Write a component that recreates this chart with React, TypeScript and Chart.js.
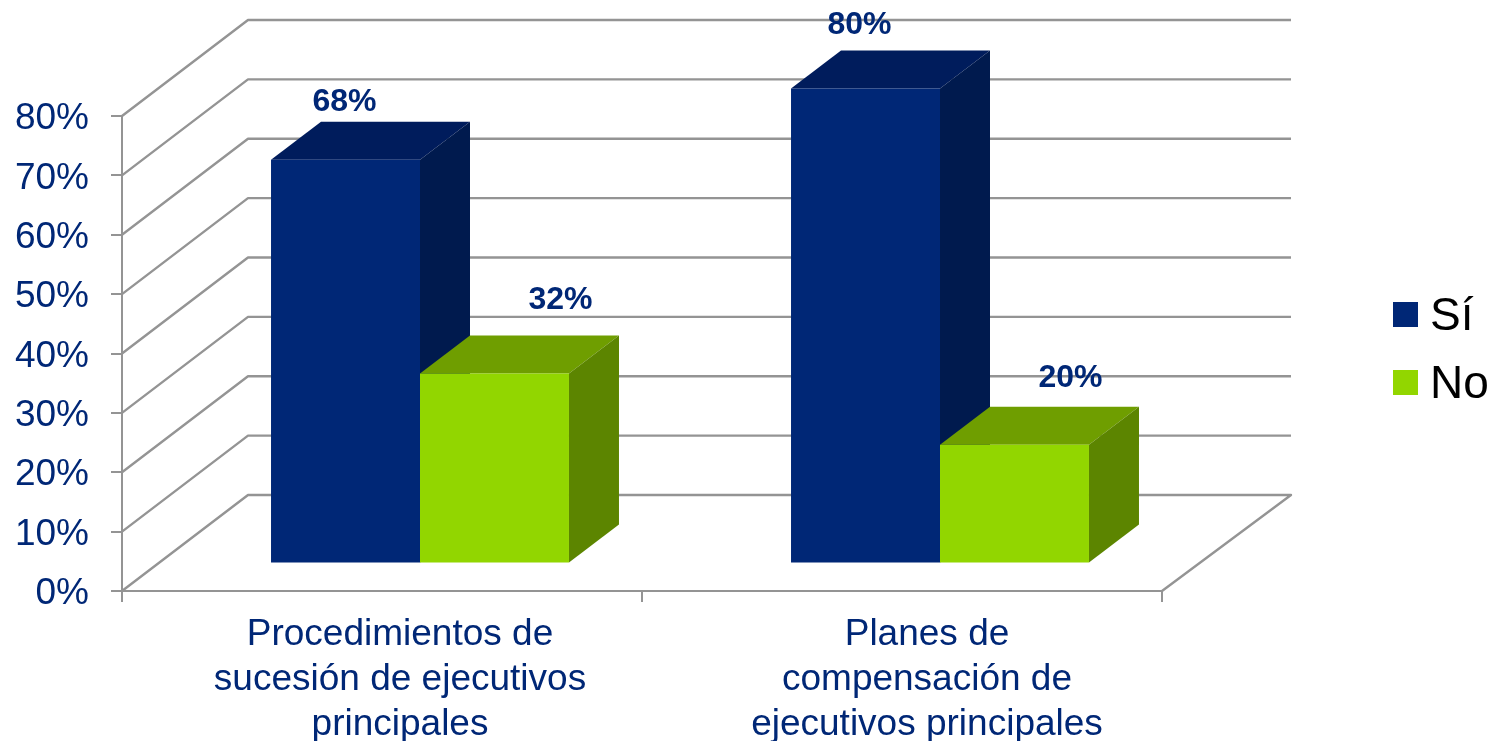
import React, { useEffect, useRef } from "react";
import { Chart, registerables } from "chart.js";

Chart.register(...registerables);

const categories = [
  ["Procedimientos de", "sucesión de ejecutivos", "principales"],
  ["Planes de", "compensación de", "ejecutivos principales"],
];
const siValues = [68, 80];
const noValues = [32, 20];
const yTicks = [0, 10, 20, 30, 40, 50, 60, 70, 80];

const NAVY = "#002776";
const GREEN = "#92d600";
const GRID = "#949494";
const FONT = '"Liberation Sans", Arial, sans-serif';
const faceColors = [
  { top: "#001c5c", side: "#001a4e" },
  { top: "#6f9e00", side: "#5c8500" },
];
// projection of the 3D box
const WALL = { dx: 126, dy: -96 };
const BAR_OFFSET = { dx: 38, dy: -27.5 };
const BAR_DEPTH = { dx: 50, dy: -38 };
// manual data-label placement relative to each bar's front-face top centre
const labelShift = [
  [{ x: -1, y: -58 }, { x: -6, y: -63 }],
  [{ x: 66, y: -73 }, { x: 56, y: -67 }],
];
const catLabelShift = [-3, 4];
// legend placement
const LEGEND = { swatchX: 1393, textX: 1430, size: 25, baselines: [330, 398] };

const threeD = {
  id: "threeD",
  beforeDraw(chart: any) {
    const items = chart.scales.x.getLabelItems();
    if (chart.$shifted !== items) {
      items.forEach((it: any, i: number) => {
        it.options.translation = [it.options.translation[0] + catLabelShift[i], it.options.translation[1]];
      });
      chart.$shifted = items;
    }
  },
  beforeDatasetsDraw(chart: any) {
    const { ctx, scales, chartArea } = chart;
    const y = scales.y;
    ctx.save();
    ctx.strokeStyle = GRID;
    ctx.lineWidth = 2.4;
    ctx.lineJoin = "round";
    yTicks.forEach((v) => {
      const py = y.getPixelForValue(v);
      ctx.beginPath();
      ctx.moveTo(chartArea.left, py);
      ctx.lineTo(chartArea.left + WALL.dx, py + WALL.dy);
      ctx.lineTo(chartArea.right + WALL.dx + 3, py + WALL.dy);
      if (v === 0) ctx.lineTo(chartArea.right, py);
      ctx.stroke();
    });
    chart.data.datasets.forEach((_: any, di: number) => {
      chart.getDatasetMeta(di).data.forEach((bar: any) => {
        const x0 = bar.x - bar.width / 2 + BAR_OFFSET.dx;
        const x1 = bar.x + bar.width / 2 + BAR_OFFSET.dx;
        const yt = bar.y + BAR_OFFSET.dy;
        const yb = bar.base + BAR_OFFSET.dy;
        ctx.fillStyle = faceColors[di].top;
        ctx.beginPath();
        ctx.moveTo(x0, yt);
        ctx.lineTo(x0 + BAR_DEPTH.dx, yt + BAR_DEPTH.dy);
        ctx.lineTo(x1 + BAR_DEPTH.dx, yt + BAR_DEPTH.dy);
        ctx.lineTo(x1, yt);
        ctx.closePath();
        ctx.fill();
        ctx.fillStyle = faceColors[di].side;
        ctx.beginPath();
        ctx.moveTo(x1, yt);
        ctx.lineTo(x1 + BAR_DEPTH.dx, yt + BAR_DEPTH.dy);
        ctx.lineTo(x1 + BAR_DEPTH.dx, yb + BAR_DEPTH.dy);
        ctx.lineTo(x1, yb);
        ctx.closePath();
        ctx.fill();
      });
    });
    ctx.restore();
  },
  beforeDatasetDraw(chart: any) {
    chart.ctx.save();
    chart.ctx.translate(BAR_OFFSET.dx, BAR_OFFSET.dy);
  },
  afterDatasetDraw(chart: any) {
    chart.ctx.restore();
  },
  afterDatasetsDraw(chart: any) {
    const { ctx } = chart;
    ctx.save();
    ctx.font = `bold 32px ${FONT}`;
    ctx.fillStyle = NAVY;
    ctx.textAlign = "center";
    ctx.textBaseline = "middle";
    chart.data.datasets.forEach((ds: any, di: number) => {
      chart.getDatasetMeta(di).data.forEach((bar: any, i: number) => {
        const s = labelShift[di][i];
        ctx.fillText(`${ds.data[i]}%`, bar.x + BAR_OFFSET.dx + s.x, bar.y + BAR_OFFSET.dy + s.y);
      });
    });
    // legend
    ctx.font = `46px ${FONT}`;
    ctx.textAlign = "left";
    ctx.textBaseline = "alphabetic";
    chart.data.datasets.forEach((ds: any, di: number) => {
      const base = LEGEND.baselines[di];
      ctx.fillStyle = ds.backgroundColor;
      ctx.fillRect(LEGEND.swatchX, base - 28, LEGEND.size, LEGEND.size);
      ctx.fillStyle = "#000000";
      ctx.fillText(ds.label, LEGEND.textX, base);
    });
    ctx.restore();
  },
};

export default function App() {
  const ref = useRef<HTMLCanvasElement>(null);
  useEffect(() => {
    const chart = new Chart(ref.current as HTMLCanvasElement, {
      type: "bar",
      data: {
        labels: categories as any,
        datasets: [
          { label: "Sí", data: siValues, backgroundColor: NAVY, borderWidth: 0, clip: false as any },
          { label: "No", data: noValues, backgroundColor: GREEN, borderWidth: 0, clip: false as any },
        ],
      },
      options: {
        animation: false,
        responsive: false,
        layout: { padding: { top: 116, right: 332, left: 0, bottom: 0 } },
        datasets: { bar: { categoryPercentage: 0.573, barPercentage: 1 } },
        plugins: {
          tooltip: { enabled: false },
          title: { display: false },
          legend: { display: false },
        },
        scales: {
          x: {
            offset: true,
            grid: { display: true, drawOnChartArea: false, drawTicks: true, tickLength: 11, color: GRID, lineWidth: 2, offset: true },
            border: { display: true, color: GRID, width: 2 },
            ticks: {
              autoSkip: false,
              maxRotation: 0,
              minRotation: 0,
              padding: 10,
              labelOffset: 21,
              color: NAVY,
              font: { family: FONT, size: 37, lineHeight: 45 / 37 },
            },
            afterFit: (s: any) => { s.height = 150; },
          },
          y: {
            min: 0,
            max: 80,
            position: "left",
            grid: { display: true, drawOnChartArea: false, drawTicks: true, tickLength: 11, color: GRID, lineWidth: 2 },
            border: { display: true, color: GRID, width: 2 },
            ticks: {
              stepSize: 10,
              padding: 22,
              labelOffset: 3,
              color: NAVY,
              font: { family: FONT, size: 37 },
              callback: (v: any) => `${v}%`,
            },
            afterFit: (s: any) => { s.width = 122; },
          },
        },
      } as any,
      plugins: [threeD],
    });
    return () => chart.destroy();
  }, []);
  return (
    <canvas
      ref={ref}
      width={1494}
      height={741}
      style={{ position: "fixed", left: 0, top: 0, display: "block" }}
    />
  );
}
